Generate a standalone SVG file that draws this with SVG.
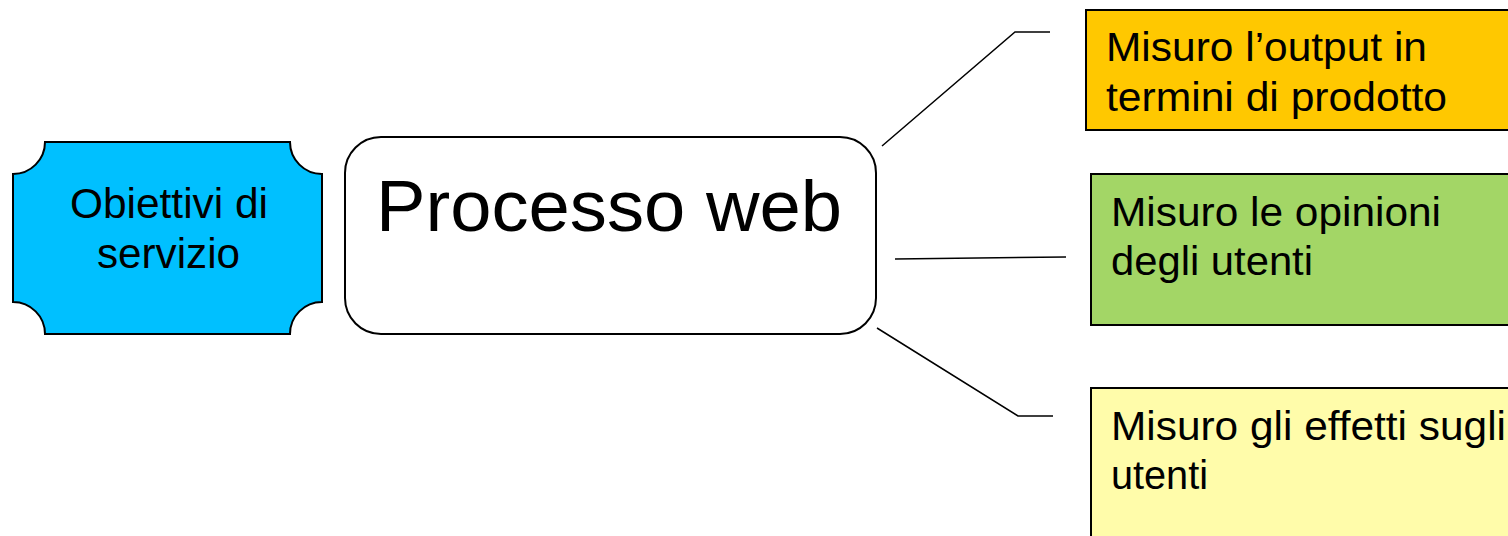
<svg xmlns="http://www.w3.org/2000/svg" width="1508" height="536" viewBox="0 0 1508 536">
<style>
.t{font-family:"Liberation Sans",Arial,sans-serif;fill:#000}
.b{stroke:#000;stroke-width:2}
.c{fill:none;stroke:#000;stroke-width:1.5}
</style>
<rect width="1508" height="536" fill="#fff"/>
<g id="connectors">
<polyline class="c" points="882,146 1015,32 1050,32"/>
<polyline class="c" points="895,259 1066,257"/>
<polyline class="c" points="877,328 1018,416 1053,416"/>
</g>
<g id="obiettivi">
<path class="b" fill="#00C0FF" d="M45,142 H290 A32,32 0 0 0 322,174 V302 A32,32 0 0 0 290,334 H45 A32,32 0 0 0 13,302 V174 A32,32 0 0 0 45,142 Z"/>
<text class="t" font-size="42" x="70" y="218" textLength="198" lengthAdjust="spacingAndGlyphs">Obiettivi di</text>
<text class="t" font-size="42" x="97" y="268" textLength="143" lengthAdjust="spacingAndGlyphs">servizio</text>
</g>
<g id="processo">
<rect class="b" fill="#fff" x="345" y="137" width="531" height="197" rx="36"/>
<text class="t" font-size="72" x="376" y="231" textLength="466" lengthAdjust="spacingAndGlyphs">Processo web</text>
</g>
<g id="output">
<rect class="b" fill="#FFC800" x="1086" y="10" width="440" height="120"/>
<text class="t" font-size="40" x="1106" y="61" textLength="321" lengthAdjust="spacingAndGlyphs">Misuro l’output in</text>
<text class="t" font-size="40" x="1106" y="111" textLength="341" lengthAdjust="spacingAndGlyphs">termini di prodotto</text>
</g>
<g id="opinioni">
<rect class="b" fill="#A3D666" x="1091" y="174" width="440" height="151"/>
<text class="t" font-size="40" x="1111" y="226" textLength="330" lengthAdjust="spacingAndGlyphs">Misuro le opinioni</text>
<text class="t" font-size="40" x="1111" y="275" textLength="202" lengthAdjust="spacingAndGlyphs">degli utenti</text>
</g>
<g id="effetti">
<rect class="b" fill="#FFFCAA" x="1091" y="388" width="440" height="170"/>
<text class="t" font-size="40" x="1111" y="440" textLength="395" lengthAdjust="spacingAndGlyphs">Misuro gli effetti sugli</text>
<text class="t" font-size="40" x="1111" y="489" textLength="97" lengthAdjust="spacingAndGlyphs">utenti</text>
</g>
</svg>
